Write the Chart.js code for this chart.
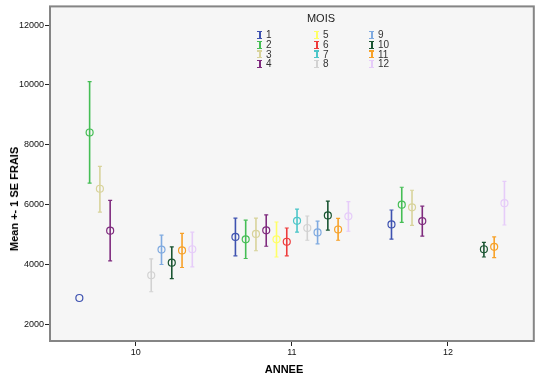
<!DOCTYPE html>
<html>
<head>
<meta charset="utf-8">
<script src="https://cdn.jsdelivr.net/npm/chart.js@4/dist/chart.umd.min.js"></script>
<style>
  body { margin: 0; background: #fff; font-family: "Liberation Sans", Arial, sans-serif; }
  #wrap { position: relative; width: 539px; height: 375px; }
  #yTitle { position: absolute; left: 14px; top: 199px; transform: translate(-50%, -50%) rotate(-90deg);
            font-weight: bold; font-size: 11px; white-space: nowrap; color: #000; }
  #xTitle { position: absolute; left: 284px; top: 369px; transform: translate(-50%, -50%);
            font-weight: bold; font-size: 11px; color: #000; }
  #legTitle { position: absolute; left: 321px; top: 18px; transform: translate(-50%, -50%);
              font-size: 11px; color: #222; }
  #legend { position: absolute; left: 257px; top: 30px; display: grid;
            grid-template-columns: 57px 55px 45px; grid-template-rows: repeat(4, 9.8px);
            grid-auto-flow: column; font-size: 10px; color: #333; }
  .item { display: flex; align-items: center; line-height: 9.8px; }
  .ico { position: relative; width: 5px; height: 8px; margin-right: 4px; }
  .ico .bar { position: absolute; left: 2px; top: 0; width: 1.5px; height: 8px; }
  .ico .cap { position: absolute; left: 0; width: 5px; height: 1.2px; }
</style>
</head>
<body>
<div id="wrap">
  <canvas id="chart"></canvas>
  <div id="yTitle">Mean +- 1 SE FRAIS</div>
  <div id="xTitle">ANNEE</div>
  <div id="legTitle">MOIS</div>
  <div id="legend"></div>
</div>
<script>
const years = [10, 11, 12];
const months = ['1', '2', '3', '4', '5', '6', '7', '8', '9', '10', '11', '12'];
const yTicks = [2000, 4000, 6000, 8000, 10000, 12000];
const colors = ['#3E52B0', '#45BE55', '#D8D39B', '#7F2B7E', '#FFFF66', '#EE3B3B',
                '#4DC6C9', '#D2D2D2', '#7FAAE0', '#1A5532', '#F7A128', '#E6CCF9'];

// means and +-1 SE bounds, one entry per month
const mean10 = [2880, 8410, 6530, 5130, null, null, null, 3640, 4500, 4060, 4470, 4510];
const low10  = [null, 6720, 5750, 4120, null, null, null, 3090, 4000, 3530, 3900, 3920];
const high10 = [null, 10110, 7280, 6140, null, null, null, 4190, 4980, 4590, 5040, 5080];

const mean11 = [4920, 4840, 5020, 5140, 4840, 4760, 5460, 5220, 5070, 5640, 5170, 5610];
const low11  = [4290, 4200, 4460, 4610, 4250, 4290, 5080, 4810, 4690, 5150, 4810, 5110];
const high11 = [5550, 5480, 5550, 5660, 5420, 5220, 5850, 5620, 5450, 6120, 5540, 6100];

const mean12 = [5340, 6000, 5910, 5450, null, null, null, null, null, 4510, 4590, 6050];
const low12  = [4850, 5410, 5310, 4950, null, null, null, null, null, 4250, 4230, 5320];
const high12 = [5820, 6580, 6480, 5950, null, null, null, null, null, 4740, 4920, 6780];

const yearMeans = [mean10, mean11, mean12];
const yearLows = [low10, low11, low12];
const yearHighs = [high10, high11, high12];

const dodge = 0.0658; // horizontal spacing between months inside a year cluster

const datasets = months.map((m, i) => {
  const pts = [], lo = [], hi = [];
  years.forEach((yr, k) => {
    if (yearMeans[k][i] == null) return;
    pts.push({ x: yr + (i - 5.5) * dodge, y: yearMeans[k][i] });
    lo.push(yearLows[k][i]);
    hi.push(yearHighs[k][i]);
  });
  return {
    label: m,
    data: pts,
    errLow: lo,
    errHigh: hi,
    borderColor: colors[i],
    backgroundColor: 'rgba(0,0,0,0)',
    pointRadius: 3.5,
    pointBorderWidth: 1.2,
    showLine: false
  };
});

const plotBox = {
  id: 'plotBox',
  beforeDraw(chart) {
    const a = chart.chartArea, ctx = chart.ctx;
    ctx.save();
    ctx.fillStyle = '#F6F6F6';
    ctx.fillRect(a.left, a.top, a.right - a.left, a.bottom - a.top);
    ctx.restore();
  },
  afterDraw(chart) {
    const a = chart.chartArea, ctx = chart.ctx;
    ctx.save();
    ctx.strokeStyle = '#858585';
    ctx.lineWidth = 2;
    ctx.strokeRect(a.left, a.top, a.right - a.left, a.bottom - a.top);
    ctx.restore();
  }
};

const errorBars = {
  id: 'errorBars',
  beforeDatasetsDraw(chart) {
    const ctx = chart.ctx, yScale = chart.scales.y;
    chart.data.datasets.forEach((ds, i) => {
      const meta = chart.getDatasetMeta(i);
      meta.data.forEach((pt, j) => {
        if (ds.errLow[j] == null) return;
        const yLo = yScale.getPixelForValue(ds.errLow[j]);
        const yHi = yScale.getPixelForValue(ds.errHigh[j]);
        ctx.save();
        ctx.strokeStyle = ds.borderColor;
        ctx.lineWidth = 1.6;
        ctx.beginPath();
        ctx.moveTo(pt.x, yLo);
        ctx.lineTo(pt.x, yHi);
        ctx.stroke();
        ctx.lineWidth = 1.2;
        ctx.beginPath();
        ctx.moveTo(pt.x - 2, yLo); ctx.lineTo(pt.x + 2, yLo);
        ctx.moveTo(pt.x - 2, yHi); ctx.lineTo(pt.x + 2, yHi);
        ctx.stroke();
        ctx.restore();
      });
    });
  }
};

const tickFont = { family: '"Liberation Sans", Arial, sans-serif', size: 9 };

new Chart(document.getElementById('chart').getContext('2d'), {
  type: 'scatter',
  data: { datasets: datasets },
  options: {
    responsive: true,
    maintainAspectRatio: false,
    animation: false,
    layout: { padding: { top: 5, right: 4, left: 0, bottom: 0 } },
    plugins: { legend: { display: false }, tooltip: { enabled: false } },
    scales: {
      x: {
        type: 'linear',
        min: 9.45,
        max: 12.55,
        afterFit: s => { s.height = 34; },
        afterBuildTicks: s => { s.ticks = years.map(v => ({ value: v })); },
        ticks: { font: tickFont, color: '#111', padding: 1, callback: v => String(v) },
        grid: { drawOnChartArea: false, drawTicks: true, tickLength: 5, color: '#222' },
        border: { display: false }
      },
      y: {
        min: 1444,
        max: 12623,
        afterFit: s => { s.width = 50; },
        afterBuildTicks: s => { s.ticks = yTicks.map(v => ({ value: v })); },
        ticks: { font: tickFont, color: '#111', padding: 1, callback: v => String(v) },
        grid: { drawOnChartArea: false, drawTicks: true, tickLength: 5, color: '#222' },
        border: { display: false }
      }
    }
  },
  plugins: [plotBox, errorBars]
});

// legend: 3 columns, filled top to bottom
const legend = document.getElementById('legend');
months.forEach((m, i) => {
  const c = colors[i];
  const el = document.createElement('div');
  el.className = 'item';
  el.innerHTML = '<span class="ico"><span class="cap" style="top:0;background:' + c + '"></span>' +
    '<span class="bar" style="background:' + c + '"></span>' +
    '<span class="cap" style="bottom:0;background:' + c + '"></span></span>' + m;
  legend.appendChild(el);
});
</script>
</body>
</html>
